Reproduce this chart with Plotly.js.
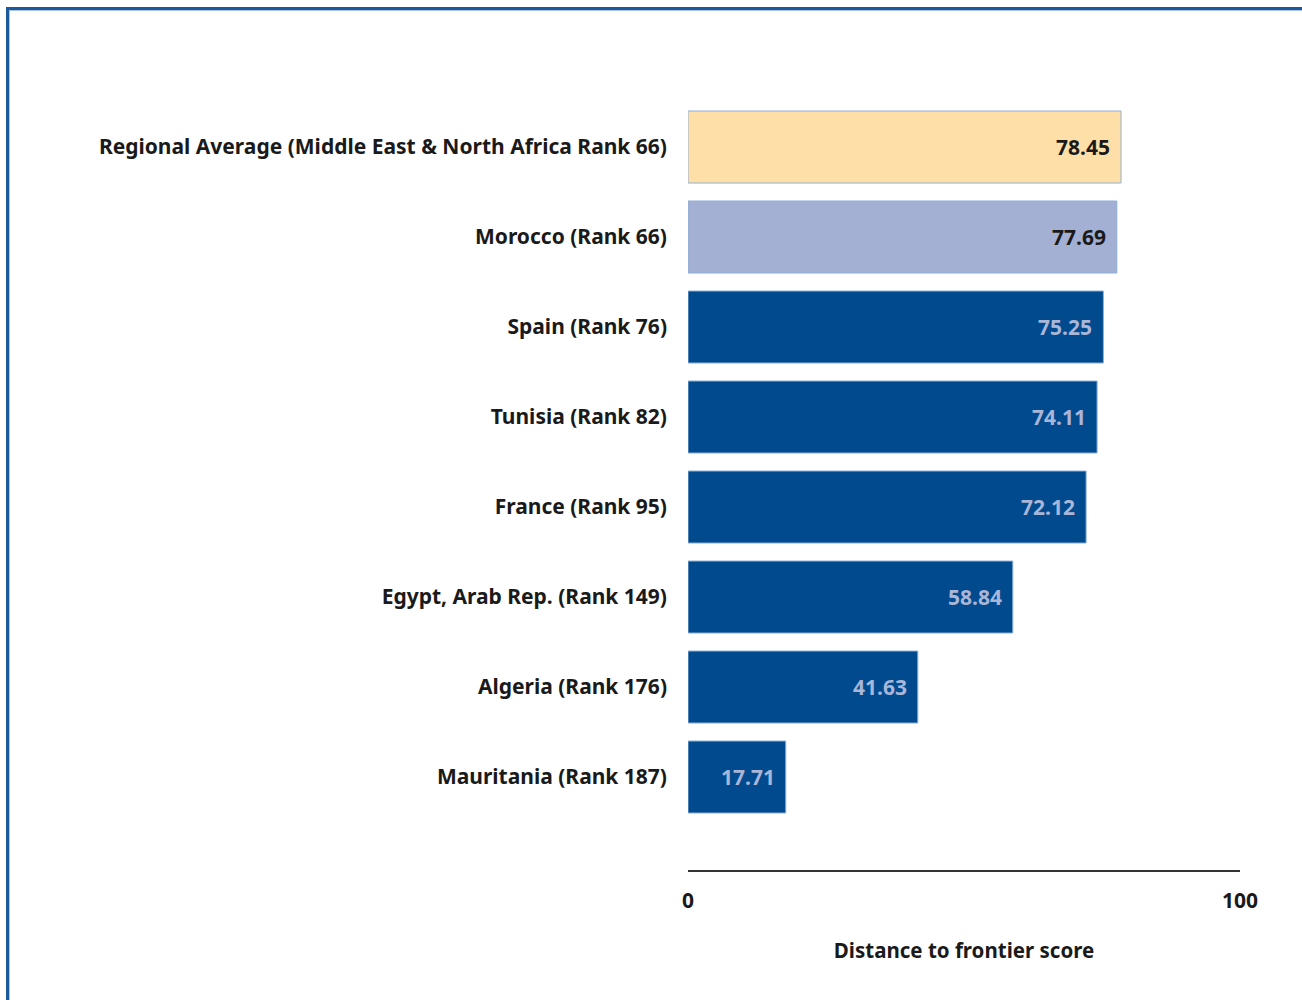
<!DOCTYPE html>
<html>
<head>
<meta charset="utf-8">
<script src="https://cdn.plot.ly/plotly-3.0.1.min.js"></script>
<style>
  html, body { margin: 0; padding: 0; background: #fff; }
  #wrap { position: relative; width: 1302px; height: 1000px; overflow: hidden; }
  #chart { position: absolute; left: 0; top: 0; width: 1302px; height: 1000px; }
  #frame { position: absolute; left: 6px; top: 7px; right: -10px; bottom: -10px;
           border-top: 3px solid #1d5a9b; border-left: 3px solid #1d5a9b;
           box-shadow: inset 1px 1px 0 #a9c4e2; pointer-events: none; }
</style>
</head>
<body>
<div id="wrap">
  <div id="chart"></div>
  <div id="frame"></div>
</div>
<script>
const categories = [
  "Regional Average (Middle East & North Africa Rank 66)",
  "Morocco (Rank 66)",
  "Spain (Rank 76)",
  "Tunisia (Rank 82)",
  "France (Rank 95)",
  "Egypt, Arab Rep. (Rank 149)",
  "Algeria (Rank 176)",
  "Mauritania (Rank 187)"
];
const scores = [78.45, 77.69, 75.25, 74.11, 72.12, 58.84, 41.63, 17.71];
const barColors = ["#ffdfa8", "#a3b0d3", "#004a8d", "#004a8d", "#004a8d", "#004a8d", "#004a8d", "#004a8d"];
const labelColors = ["#1a1a1a", "#1a1a1a", "#a9b6d8", "#a9b6d8", "#a9b6d8", "#a9b6d8", "#a9b6d8", "#a9b6d8"];
const xTicks = [0, 100];
const xTitle = "Distance to frontier score";

const font = "Noto Sans, Open Sans, sans-serif";

const trace = {
  type: "bar",
  orientation: "h",
  x: scores,
  y: categories,
  marker: { color: barColors, line: { color: "#8fb0d8", width: 1 } },
  hoverinfo: "x+y"
};

const annotations = scores.map((v, i) => ({
  x: v, y: categories[i], xref: "x", yref: "y",
  text: "<b>" + v.toFixed(2) + "</b>",
  showarrow: false, xanchor: "right", xshift: -9,
  font: { family: font, size: 21, color: labelColors[i] }
}));

const layout = {
  width: 1302, height: 1000,
  margin: { l: 688, r: 62, t: 102, b: 130 },
  paper_bgcolor: "#ffffff", plot_bgcolor: "#ffffff",
  showlegend: false,
  bargap: 0.2,
  font: { family: font, color: "#1a1a1a" },
  xaxis: {
    range: [0, 100], tickvals: xTicks, ticktext: xTicks.map(t => "<b>" + t + "</b>"),
    showgrid: false, zeroline: false, showline: true, linecolor: "#333333", linewidth: 2,
    ticks: "", ticklabelstandoff: 11,
    tickfont: { family: font, size: 21, color: "#1a1a1a" },
    title: { text: "<b>" + xTitle + "</b>", standoff: 30, font: { family: font, size: 20.5, color: "#1a1a1a" } }
  },
  yaxis: {
    type: "category", categoryorder: "array", categoryarray: categories,
    range: [8.033, -0.5],
    showgrid: false, zeroline: false, showline: false, ticks: "",
    ticklabelstandoff: 20,
    tickvals: categories, ticktext: categories.map(c => "<b>" + c + "</b>"),
    tickfont: { family: font, size: 21, color: "#1a1a1a" }
  },
  annotations: annotations
};

Plotly.newPlot("chart", [trace], layout, { displayModeBar: false, staticPlot: true });
</script>
</body>
</html>
